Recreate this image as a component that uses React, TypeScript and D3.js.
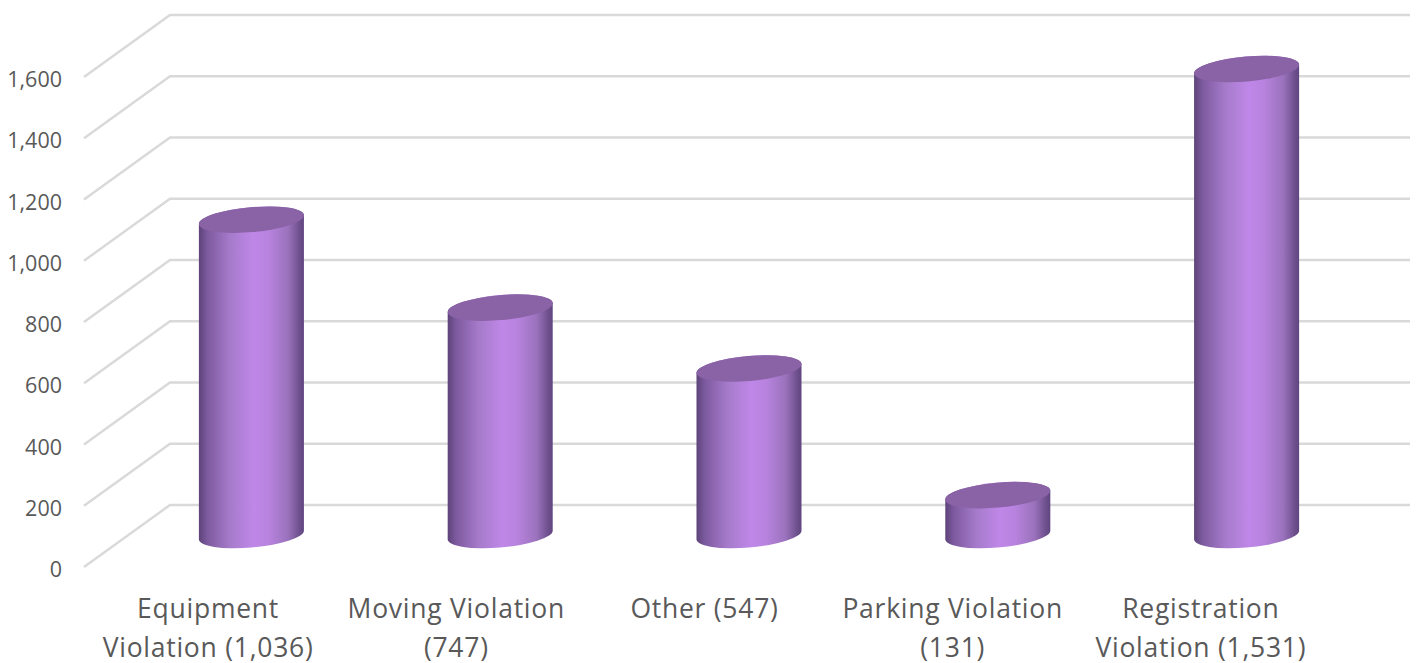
import React from 'react';
import * as d3 from 'd3';

const categories = ['Equipment Violation', 'Moving Violation', 'Other', 'Parking Violation', 'Registration Violation'];
const values = [1036, 747, 547, 131, 1531];
const tickLabels = [
  ['Equipment', 'Violation (1,036)'],
  ['Moving Violation', '(747)'],
  ['Other (547)'],
  ['Parking Violation', '(131)'],
  ['Registration', 'Violation (1,531)'],
];
const yTicks = [0, 200, 400, 600, 800, 1000, 1200, 1400, 1600];

const W = 1417, H = 663;
const depthX = 86, depthY = 62;
const frontLeft = 84, frontRight = 1325;
const backBottom = 505, backTop = 15;

// ellipse of the cylinder caps
const rx = 52.7, ry = 12.5, tilt = -5;

export default function App() {
  const yBack = d3.scaleLinear().domain([0, 1600]).range([backBottom, backTop]);
  const yBar = d3.scaleLinear().domain([0, 1600]).range([535, 48]);
  const xFront = d3.scaleBand<string>().domain(categories).range([frontLeft, frontRight]);
  const xBar = d3.scaleBand<string>().domain(categories).range([127, 1371]);
  const fmt = d3.format(',');

  const rad = (tilt * Math.PI) / 180;
  const t = Math.atan2(-ry * Math.sin(rad), rx * Math.cos(rad));
  const ex = rx * Math.cos(t) * Math.cos(rad) - ry * Math.sin(t) * Math.sin(rad);
  const ey = rx * Math.cos(t) * Math.sin(rad) + ry * Math.sin(t) * Math.cos(rad);

  return (
    <svg width={W} height={H} style={{ position: 'absolute', left: 0, top: 0, display: 'block' }}>
      <defs>
        <linearGradient id="side" x1="0" x2="1" y1="0" y2="0">
          <stop offset="0" stopColor="#5d4379" />
          <stop offset="0.08" stopColor="#7d5a9f" />
          <stop offset="0.3" stopColor="#a67bcb" />
          <stop offset="0.52" stopColor="#bf87e8" />
          <stop offset="0.66" stopColor="#b883df" />
          <stop offset="0.85" stopColor="#9a72bc" />
          <stop offset="0.96" stopColor="#6d4f8c" />
          <stop offset="1" stopColor="#5f4580" />
        </linearGradient>
      </defs>
      {yTicks.map((d) => (
        <g key={d}>
          <polyline
            points={`${frontLeft},${yBack(d) + depthY} ${frontLeft + depthX},${yBack(d)} ${W - 7},${yBack(d)}`}
            fill="none"
            stroke="#d9d9d9"
            strokeWidth={2.4}
          />
          <text
            x={62}
            y={yBack(d) + depthY + 10}
            textAnchor="end"
            fontFamily="'Open Sans', sans-serif"
            fontSize={21.5}
            fill="#595959"
          >
            {fmt(d)}
          </text>
        </g>
      ))}
      {categories.map((c, i) => {
        const cx = xBar(c)! + xBar.bandwidth() / 2;
        const y0 = yBar(0);
        const y1 = yBar(values[i]);
        const body =
          `M${cx - ex},${y1 - ey} L${cx - ex},${y0 - ey} ` +
          `A${rx},${ry} ${tilt} 0 0 ${cx + ex},${y0 + ey} ` +
          `L${cx + ex},${y1 + ey} ` +
          `A${rx},${ry} ${tilt} 0 0 ${cx - ex},${y1 - ey} Z`;
        return (
          <g key={c}>
            <path d={body} fill="url(#side)" />
            <ellipse
              cx={cx}
              cy={y1}
              rx={rx}
              ry={ry}
              transform={`rotate(${tilt} ${cx} ${y1})`}
              fill="#8a62a6"
            />
          </g>
        );
      })}
      {categories.map((c, i) => (
        <text
          key={c}
          textAnchor="middle"
          fontFamily="'Open Sans', sans-serif"
          fontSize={26.5}
          letterSpacing={0.75}
          fill="#595959"
        >
          {tickLabels[i].map((line, j) => (
            <tspan key={j} x={xFront(c)! + xFront.bandwidth() / 2} y={618 + j * 38.5}>
              {line}
            </tspan>
          ))}
        </text>
      ))}
    </svg>
  );
}
